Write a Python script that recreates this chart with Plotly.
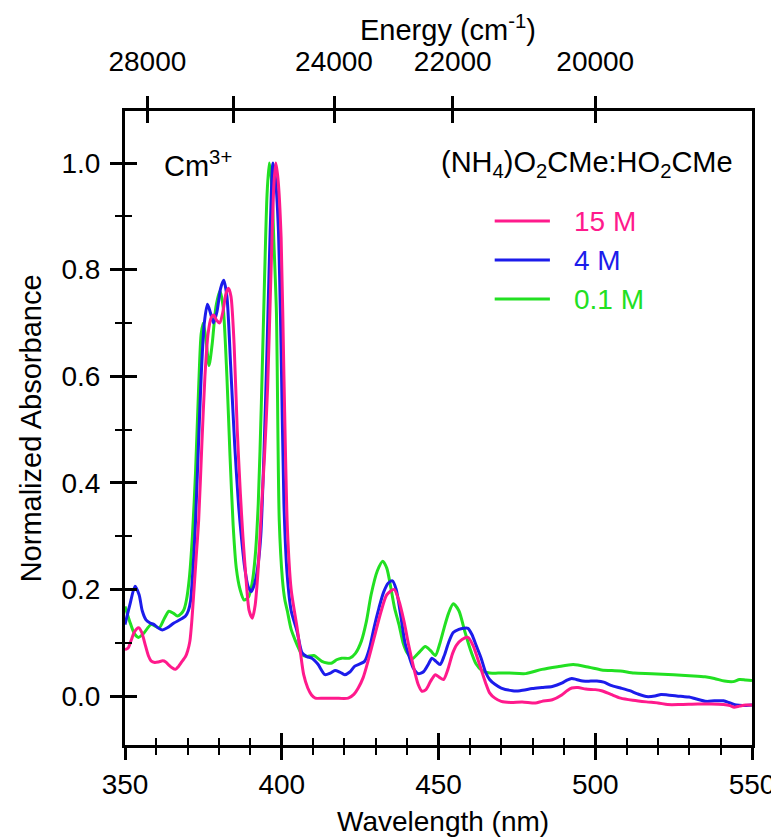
import plotly.graph_objects as go

# ---------------- data ----------------
wl_01M = [350, 351.5, 353, 354.3, 356, 358.3, 360.9, 362.5, 364, 365.5,
          366.7, 368, 368.8, 369.6, 370.5, 371.5, 372.5, 373.5, 374.3, 375,
          375.8, 376.8, 377.8, 379, 380.3, 381.3, 382.5, 383.5, 384.5, 385.5,
          386.7, 388, 389.3, 390.5, 391.5, 392.5, 393.5, 394.5, 395.3, 396,
          396.7, 397.5, 398.3, 399.2, 400.2, 401, 401.8, 403, 404.4, 405.5,
          406.5, 408, 410.2, 412.8, 414.5, 416, 417.5, 419.1, 421.7, 423.5,
          425.4, 427, 428.5, 430.5, 432.2, 433.5, 434.8, 436, 437.4, 438.7,
          440, 441.6, 443.5, 445.8, 447.5, 449, 450.5, 451.8, 453.2, 454.7,
          456.5, 458.4, 460, 462, 464, 466.3, 469, 472.6, 477.8, 483,
          488, 493, 498, 502, 508, 512.4, 518, 525, 530, 535,
          538, 541.2, 544, 546, 548, 550]
abs_01M = [0.168, 0.14, 0.117, 0.11, 0.118, 0.134, 0.128, 0.145, 0.159, 0.155,
           0.15, 0.155, 0.162, 0.18, 0.22, 0.3, 0.42, 0.58, 0.68, 0.70,
           0.67, 0.62, 0.66, 0.73, 0.76, 0.73, 0.6, 0.45, 0.32, 0.24,
           0.2, 0.18, 0.185, 0.21, 0.26, 0.36, 0.55, 0.78, 0.94, 1.0,
           0.97, 0.85, 0.72, 0.33, 0.22, 0.18, 0.159, 0.125, 0.103, 0.088,
           0.077, 0.074, 0.076, 0.065, 0.062, 0.062, 0.068, 0.071, 0.071, 0.08,
           0.103, 0.14, 0.19, 0.235, 0.253, 0.24, 0.203, 0.165, 0.134, 0.1,
           0.081, 0.07, 0.08, 0.093, 0.085, 0.076, 0.1, 0.128, 0.155, 0.173,
           0.16, 0.121, 0.09, 0.06, 0.047, 0.043, 0.043, 0.043, 0.042, 0.05,
           0.055, 0.059, 0.054, 0.049, 0.047, 0.043, 0.042, 0.04, 0.038, 0.036,
           0.033, 0.028, 0.027, 0.031, 0.03, 0.029]

wl_4M = [350, 351.5, 353.2, 354.5, 355.5, 356.7, 358, 359.3, 360.5, 361.9,
         363.5, 365.6, 367.5, 369.3, 370.2, 370.9, 371.7, 372.4, 373.3, 374.3,
         375.3, 376.3, 377.2, 378.2, 379.3, 380.5, 381.5, 382.5, 383.7, 385,
         386.2, 387.1, 388.2, 389.3, 390.3, 391.3, 392.3, 393.3, 394.3, 395.3,
         396.3, 397.2, 398, 398.9, 399.8, 400.7, 401.7, 403, 404.9, 406.5,
         408, 409.6, 411.5, 413.8, 415.5, 417, 418.5, 420.1, 421.7, 423.3,
         426.4, 428, 429.5, 431, 432.5, 434, 435.3, 436.5, 437.9, 439.3,
         440.6, 442, 443.5, 445.3, 446.8, 447.9, 449.2, 450.5, 451.8, 453.2,
         454.7, 456.5, 458, 459.4, 460.7, 462, 463.6, 465, 466.3, 468,
         470, 473.6, 476, 479.9, 483, 486.3, 489.3, 491, 492.5, 494,
         496, 498.6, 500.5, 502.7, 505, 508.1, 511, 513.5, 516.3, 519,
         521, 523.1, 526, 528, 529.9, 532, 535.4, 538, 540.9, 543,
         545, 547, 550]
abs_4M = [0.134, 0.17, 0.206, 0.19, 0.16, 0.143, 0.137, 0.134, 0.128, 0.124,
          0.128, 0.137, 0.143, 0.15, 0.16, 0.178, 0.24, 0.315, 0.45, 0.6,
          0.7, 0.735, 0.72, 0.70, 0.72, 0.765, 0.78, 0.75, 0.62, 0.47,
          0.36, 0.3, 0.24, 0.205, 0.196, 0.21, 0.24, 0.3, 0.45, 0.65,
          0.87, 1.0, 0.97, 0.88, 0.65, 0.36, 0.23, 0.16, 0.121, 0.081,
          0.074, 0.071, 0.06, 0.04, 0.043, 0.048, 0.045, 0.04, 0.045, 0.056,
          0.065, 0.09, 0.13, 0.165, 0.195, 0.212, 0.216, 0.2, 0.153, 0.1,
          0.075, 0.052, 0.042, 0.046, 0.06, 0.071, 0.065, 0.059, 0.075, 0.1,
          0.119, 0.125, 0.127, 0.127, 0.115, 0.095, 0.071, 0.045, 0.031, 0.022,
          0.015, 0.01, 0.01, 0.014, 0.016, 0.018, 0.024, 0.03, 0.033, 0.031,
          0.028, 0.028, 0.028, 0.026, 0.02, 0.015, 0.01, 0.004, -0.001, 0.0,
          0.003, 0.002, 0.0, -0.001, -0.002, -0.005, -0.01, -0.009, -0.009, -0.013,
          -0.017, -0.018, -0.017]

wl_15M = [350, 351, 352, 353, 354.3, 355.3, 356.5, 357.5, 358.3, 359.5,
          360.7, 362, 363, 364, 365, 366.1, 367, 368.2, 369.3, 370,
          370.7, 371.3, 371.9, 372.7, 373.5, 374.5, 375.5, 376.5, 377.5, 378.3,
          379.2, 380.2, 381.2, 382.2, 383, 383.8, 384.8, 385.8, 386.8, 387.6,
          388.6, 389.6, 390.6, 391.5, 392.5, 393.5, 394.5, 395.5, 396.5, 397.5,
          398.1, 398.8, 399.8, 400.7, 401.8, 403, 404.9, 406, 407, 408.3,
          409.5, 410.7, 413.3, 417, 421.2, 423, 424.4, 426, 427.5, 429.5,
          431.7, 433.5, 435.8, 437.3, 439, 440.5, 442.1, 443.5, 444.7, 446,
          447.5, 449, 450.3, 451.6, 453, 454.5, 455.8, 457.5, 459.4, 461,
          463.1, 465, 466.3, 468, 470, 473, 476.7, 480.9, 483, 486.3,
          489.3, 491, 492.5, 494.5, 497, 500, 502, 505, 508.1, 512,
          516.3, 520, 523.1, 527, 532.7, 537, 540.9, 543, 544.3, 546,
          548, 550]
abs_15M = [0.087, 0.09, 0.105, 0.12, 0.128, 0.12, 0.095, 0.075, 0.066, 0.063,
           0.064, 0.066, 0.064, 0.058, 0.053, 0.05, 0.055, 0.065, 0.074, 0.085,
           0.103, 0.14, 0.19, 0.26, 0.33, 0.47, 0.6, 0.68, 0.71, 0.715,
           0.705, 0.70, 0.72, 0.755, 0.765, 0.75, 0.66, 0.5, 0.38, 0.3,
           0.22, 0.16, 0.146, 0.17, 0.24, 0.35, 0.45, 0.58, 0.78, 0.96,
           1.0, 0.97, 0.86, 0.6, 0.315, 0.2, 0.128, 0.08, 0.04, 0.015,
           0.002, -0.004, -0.004, -0.004, -0.004, 0.003, 0.015, 0.035, 0.065, 0.11,
           0.159, 0.19, 0.2, 0.18, 0.14, 0.095, 0.053, 0.022, 0.009, 0.012,
           0.028, 0.04, 0.035, 0.031, 0.05, 0.08, 0.096, 0.106, 0.11, 0.095,
           0.059, 0.025, 0.006, -0.004, -0.01, -0.012, -0.011, -0.013, -0.01, -0.007,
           0.002, 0.01, 0.015, 0.016, 0.013, 0.012, 0.01, 0.003, -0.004, -0.008,
           -0.011, -0.013, -0.016, -0.016, -0.015, -0.015, -0.016, -0.018, -0.021, -0.019,
           -0.017, -0.017]

series_names = ["15 M", "4 M", "0.1 M"]
series_colors = ["#FF1A8C", "#1C1CEB", "#22E022"]

energy_ticks = [28000, 26000, 24000, 22000, 20000]
energy_labels = ["28000", " ", "24000", "22000", "20000"]

x_range = [350, 550]
y_range = [-0.0919, 1.0976]

FONT = "Liberation Sans, Arial, Helvetica, sans-serif"

fig = go.Figure()

series = [(wl_15M, abs_15M), (wl_4M, abs_4M), (wl_01M, abs_01M)]
# draw green first, pink last (pink on top like reference)
for idx in [2, 1, 0]:
    xs, ys = series[idx]
    fig.add_trace(go.Scatter(
        x=xs, y=ys, mode="lines", name=series_names[idx],
        line=dict(color=series_colors[idx], width=3, shape="spline", smoothing=0.7),
        showlegend=False, hoverinfo="skip"))

major = dict(ticklen=12, tickwidth=2.5, tickcolor="black")
minor_x = dict(dtick=10, ticklen=7, tickwidth=2, tickcolor="black", showgrid=False)
minor_y = dict(dtick=0.1, ticklen=7, tickwidth=2, tickcolor="black", showgrid=False)
tickfont = dict(family=FONT, size=28, color="black")

fig.update_layout(
    width=779, height=838,
    margin=dict(l=117, r=26, t=103, b=101),
    paper_bgcolor="white", plot_bgcolor="white",
    font=dict(family=FONT, color="black"),
    showlegend=False,
    xaxis=dict(range=x_range, tick0=350, dtick=50, ticks="outside", **major,
               minor=dict(ticks="outside", **minor_x),
               showline=True, linewidth=3, linecolor="black", mirror=False,
               showgrid=False, zeroline=False, tickfont=tickfont,
               ticklabelstandoff=0),
    xaxis3=dict(range=x_range, overlaying="x", anchor="y", side="bottom",
                tick0=350, dtick=50, ticks="inside", **major,
                minor=dict(ticks="inside", **minor_x),
                showline=False, showgrid=False, zeroline=False,
                showticklabels=False),
    xaxis2=dict(range=x_range, overlaying="x", anchor="y", side="top",
                tickmode="array",
                tickvals=[1e7 / e for e in energy_ticks], ticktext=energy_labels,
                ticks="outside", **major,
                showline=True, linewidth=3, linecolor="black",
                showgrid=False, zeroline=False, tickfont=tickfont,
                ticklabelstandoff=14),
    xaxis4=dict(range=x_range, overlaying="x", anchor="y", side="top",
                tickmode="array",
                tickvals=[1e7 / e for e in energy_ticks],
                ticks="inside", **major,
                showline=False, showgrid=False, zeroline=False,
                showticklabels=False),
    yaxis=dict(range=y_range, tick0=0, dtick=0.2, tickformat=".1f",
               ticks="outside", **major,
               minor=dict(ticks="outside", **minor_y),
               showline=True, linewidth=3, linecolor="black", mirror=True,
               showgrid=False, zeroline=False, tickfont=tickfont,
               ticklabelstandoff=4),
    yaxis2=dict(range=y_range, overlaying="y", anchor="x", side="left",
                tick0=0, dtick=0.2, ticks="inside", **major,
                minor=dict(ticks="inside", **minor_y),
                showline=False, showgrid=False, zeroline=False,
                showticklabels=False),
)

# dummy traces so overlay axes are always rendered
fig.add_trace(go.Scatter(x=[None], y=[None], xaxis="x3", yaxis="y2",
                         showlegend=False, hoverinfo="skip"))
fig.add_trace(go.Scatter(x=[None], y=[None], xaxis="x2", yaxis="y",
                         showlegend=False, hoverinfo="skip"))
fig.add_trace(go.Scatter(x=[None], y=[None], xaxis="x4", yaxis="y",
                         showlegend=False, hoverinfo="skip"))

def px_x(p):
    return (p - 117) / 636.0

def px_y(p):
    return (737 - p) / 634.0

ann = []
ann.append(dict(text="Wavelength (nm)", x=px_x(440), y=px_y(813), xref="paper", yref="paper",
                xanchor="center", yanchor="middle", showarrow=False,
                font=dict(family=FONT, size=28, color="black")))
ann.append(dict(text="Energy (cm<sup>-1</sup>)", x=px_x(445), y=px_y(20), xref="paper", yref="paper",
                xanchor="center", yanchor="middle", showarrow=False,
                font=dict(family=FONT, size=29, color="black")))
ann.append(dict(text="Normalized Absorbance", x=px_x(22), y=px_y(420), xref="paper", yref="paper",
                xanchor="center", yanchor="middle", showarrow=False, textangle=-90,
                font=dict(family=FONT, size=29, color="black")))
ann.append(dict(text="Cm<sup>3+</sup>", x=px_x(155), y=px_y(156), xref="paper", yref="paper",
                xanchor="left", yanchor="middle", showarrow=False,
                font=dict(family=FONT, size=29, color="black")))
ann.append(dict(text="(NH<sub>4</sub>)O<sub>2</sub>CMe:HO<sub>2</sub>CMe", x=px_x(736), y=px_y(156),
                xref="paper", yref="paper", xanchor="right", yanchor="middle", showarrow=False,
                font=dict(family=FONT, size=29, color="black")))

legend_rows = [213, 252, 291]
shapes = []
for name, color, row in zip(series_names, series_colors, legend_rows):
    shapes.append(dict(type="line", xref="paper", yref="paper",
                       x0=px_x(492), x1=px_x(548), y0=px_y(row), y1=px_y(row),
                       line=dict(color=color, width=3)))
    ann.append(dict(text=name, x=px_x(570), y=px_y(row), xref="paper", yref="paper",
                    xanchor="left", yanchor="middle", showarrow=False,
                    font=dict(family=FONT, size=28, color=color)))

fig.update_layout(annotations=ann, shapes=shapes)

fig.write_html("out.html")
